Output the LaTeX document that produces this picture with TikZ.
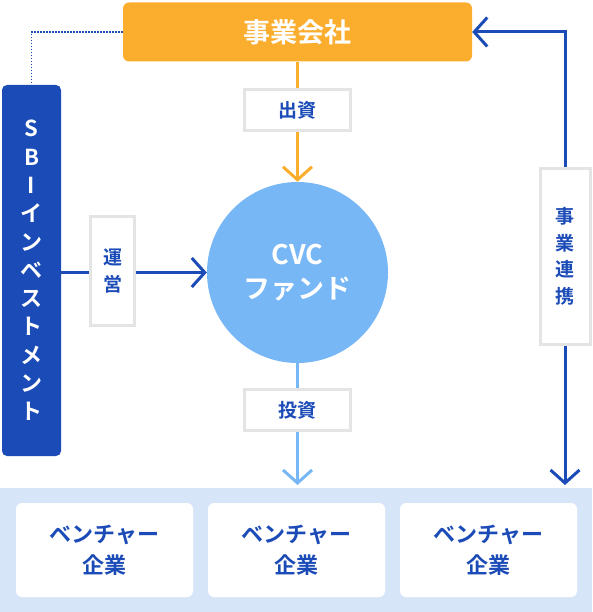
\documentclass[tikz,border=0pt]{standalone}
\usepackage{fontspec}
\setmainfont{Noto Sans CJK JP}[BoldFont={Noto Sans CJK JP Bold}]
\usetikzlibrary{arrows.meta}

\definecolor{companyorange}{HTML}{FBAD2E}
\definecolor{sbiblue}{HTML}{1B4BB7}
\definecolor{fundblue}{HTML}{77B7F6}
\definecolor{panelblue}{HTML}{D6E6F8}
\definecolor{framegray}{HTML}{E4E4E4}

\begin{document}
\begin{tikzpicture}[x=1pt,y=-1pt,
    flow/.style={line width=3pt,-{Straight Barb[length=13pt,width=29pt]}},
    tag/.style={draw=framegray,line width=3pt,fill=white,text=sbiblue,inner sep=0pt,
      align=center,font=\bfseries\fontsize{19}{27}\selectfont},
    venture/.style={fill=white,rounded corners=6pt,minimum width=177pt,minimum height=94pt,
      inner sep=0pt,text=sbiblue,align=center,font=\bfseries\fontsize{22}{31}\selectfont}]

      \useasboundingbox (0,0) rectangle (592,612);

      % main blocks
      \node[fill=companyorange,rounded corners=6pt,minimum width=349pt,minimum height=59pt,
        text=white,font=\bfseries\fontsize{27}{30}\selectfont] (company) at (297.5,32) {事業会社};
      \node[fill=sbiblue,rounded corners=5pt,minimum width=59pt,minimum height=371pt,inner sep=0pt,
        text=white,align=center,font=\bfseries\fontsize{22}{28.3}\selectfont] (sbi) at (31.5,270.5)
        {S\\B\\I\\イ\\ン\\ベ\\ス\\ト\\メ\\ン\\ト};
      \node[circle,fill=fundblue,minimum size=181pt,text=white,align=center,
        font=\bfseries\fontsize{27}{34}\selectfont] (fund) at (297.5,272.5) {CVC\\ファンド};

      % ventures
      \node[fill=panelblue,minimum width=592pt,minimum height=124pt,inner sep=0pt,anchor=north west]
        (panel) at (0,488) {};
      \node[venture] (v1) at (104.5,550) {ベンチャー\\企業};
      \node[venture] (v2) at (296.5,550) {ベンチャー\\企業};
      \node[venture] (v3) at (488.5,550) {ベンチャー\\企業};

      % connectors
      \draw[sbiblue,line width=1.5pt,dash pattern=on 1.5pt off 1.5pt] (company.west) -| (sbi.north);
      \draw[flow,companyorange] (company) -- (fund);
      \draw[flow,sbiblue] (sbi.east |- fund.center) -- (fund.west);
      \draw[flow,fundblue,shorten >=3pt] (fund) -- (fund |- panel.north);
      \coordinate (link) at (565,256.5);
      \draw[flow,sbiblue] (link) |- (company.east);
      \draw[flow,sbiblue,shorten >=3pt] (link) -- (link |- panel.north);

      % labels on the connectors
      \node[tag,minimum width=106pt,minimum height=41pt] (invest) at (297.5,110) {出資};
      \node[tag,minimum width=44pt,minimum height=109pt] (run) at (112.5,271) {運\\営};
      \node[tag,minimum width=106pt,minimum height=41pt] (fundinvest) at (297.5,410) {投資};
      \node[tag,minimum width=50pt,minimum height=176pt,font=\bfseries\fontsize{19}{26.5}\selectfont]
        (tieup) at (link) {事\\業\\連\\携};

    \end{tikzpicture}
\end{document}
